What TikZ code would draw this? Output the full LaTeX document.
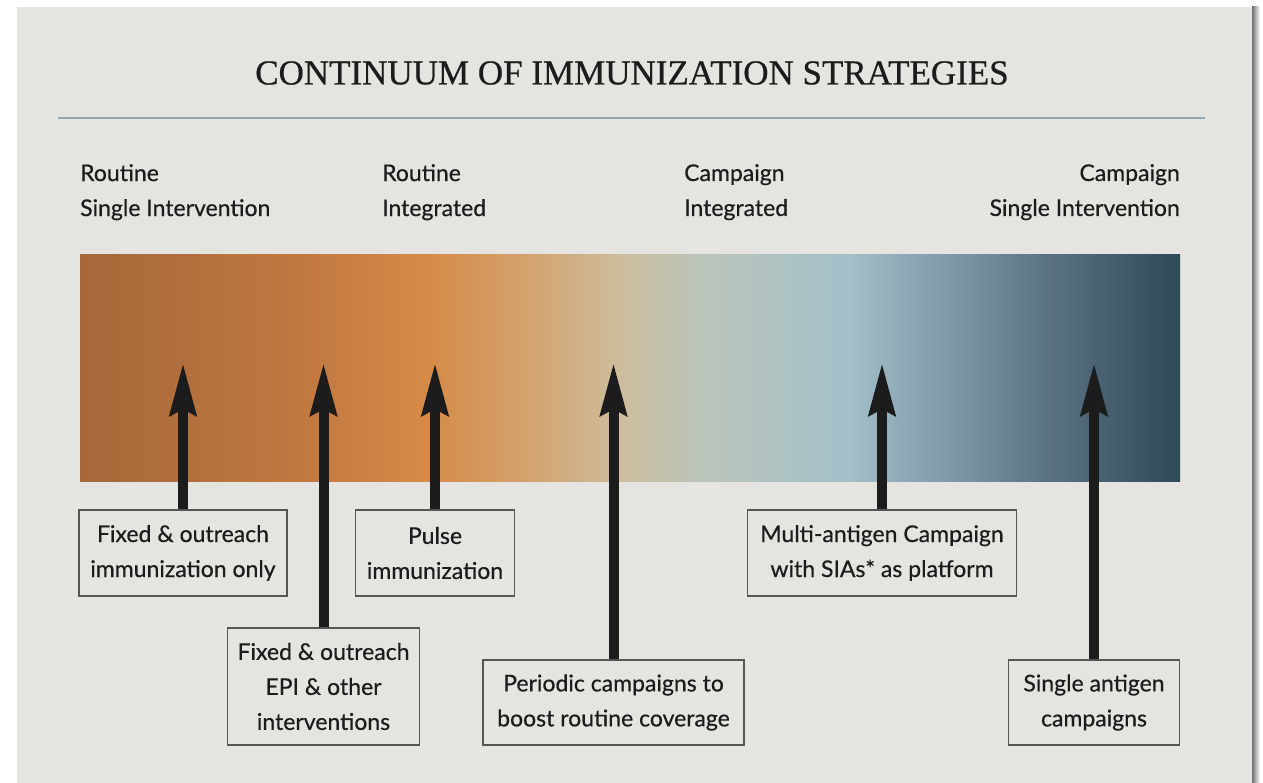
\documentclass[tikz,border=0pt]{standalone}
\usepackage{fontspec}
\setmainfont{Lato}[FakeBold=0.5]
\newfontfamily\titlefont{Liberation Serif}[FakeBold=0.6]
\usetikzlibrary{arrows.meta}
\definecolor{panel}{HTML}{E5E4E1}
\definecolor{rulec}{HTML}{8EA7B3}
\definecolor{boxline}{HTML}{555555}
\definecolor{inkc}{HTML}{1C1C1C}
\definecolor{gA}{HTML}{A5683A}
\definecolor{gB}{HTML}{C07740}
\definecolor{gC}{HTML}{D68B48}
\definecolor{gD}{HTML}{D4A370}
\definecolor{gE}{HTML}{CDBD9C}
\definecolor{gF}{HTML}{BBC4BA}
\definecolor{gG}{HTML}{A3C0C9}
\definecolor{gK}{HTML}{8FABB7}
\definecolor{gH}{HTML}{7E9AA8}
\definecolor{gI}{HTML}{5A7282}
\definecolor{gJ}{HTML}{304956}
\pgfdeclarehorizontalshading{continuum}{100bp}{%
 color(0bp)=(gA); color(25bp)=(gA); color(34.8bp)=(gB); color(40.9bp)=(gC);
 color(45.5bp)=(gD); color(49.5bp)=(gE); color(53.2bp)=(gF); color(60bp)=(gG);
 color(62.3bp)=(gK); color(64.5bp)=(gH); color(69bp)=(gI); color(75bp)=(gJ); color(100bp)=(gJ)}
\tikzset{
  x=1pt, y=-1pt,
  lab/.style={font=\fontsize{23}{35}\selectfont, text=inkc, inner sep=0pt},
  stratbox/.style={draw=boxline, line width=1.3pt, font=\fontsize{23}{35}\selectfont,
     text=inkc, align=center, inner sep=0pt},
  arr/.style={draw=inkc, line width=10pt, -{Stealth[length=52pt,width=26pt,inset=6pt]}},
}
\begin{document}
\begin{tikzpicture}
\useasboundingbox (0,0) rectangle (1263,783);
\fill[white] (0,0) rectangle (1263,783);
\shade[left color=black!55, right color=white] (1252,7) rectangle (1260,783);
\fill[panel] (17,7) rectangle (1252,783);
% title
\node[font=\titlefont\fontsize{35}{40}\selectfont, text=inkc, inner sep=0pt] (title) at (632,73) {CONTINUUM OF IMMUNIZATION STRATEGIES};
\draw[rulec, line width=2.2pt] (58,118) coordinate (r1) -- (1205,118) coordinate (r2);
% headings
\node[lab, anchor=north west, align=left] (h1) at (80,164) {Routine\\Single Intervention};
\node[lab, anchor=north west, align=left] (h2) at (382,164) {Routine\\Integrated};
\node[lab, anchor=north west, align=left] (h3) at (684,164) {Campaign\\Integrated};
\node[lab, anchor=north east, align=right] (h4) at (1180,164) {Campaign\\Single Intervention};
% bar
\path[shading=continuum] (80,255) rectangle (1180,481);
\node[inner sep=0pt, minimum width=1100pt, minimum height=226pt] (bar) at (630,368) {};
\coordinate (tipline) at (0,363);
% boxes
\node[stratbox, minimum width=208pt, minimum height=86pt] (b1) at (183,553) {Fixed \& outreach\\immunization only};
\node[stratbox, minimum width=159pt, minimum height=86pt] (b2) at (435,553) {Pulse\\immunization};
\node[stratbox, minimum width=269pt, minimum height=86pt] (b3) at (882,553) {Multi-antigen Campaign\\with SIAs* as platform};
\node[stratbox, minimum width=192pt, minimum height=117pt] (b4) at (323.5,686.5) {Fixed \& outreach\\EPI \& other\\interventions};
\node[stratbox, minimum width=261pt, minimum height=85pt] (b5) at (613.5,702.5) {Periodic campaigns to\\boost routine coverage};
\node[stratbox, minimum width=171pt, minimum height=85pt] (b6) at (1094,702.5) {Single antigen\\campaigns};
% arrows
\foreach \b in {b1,b2,b3,b4,b5,b6}{
  \draw[arr] (\b.north) -- (\b.north |- tipline);
}
\end{tikzpicture}
\end{document}
